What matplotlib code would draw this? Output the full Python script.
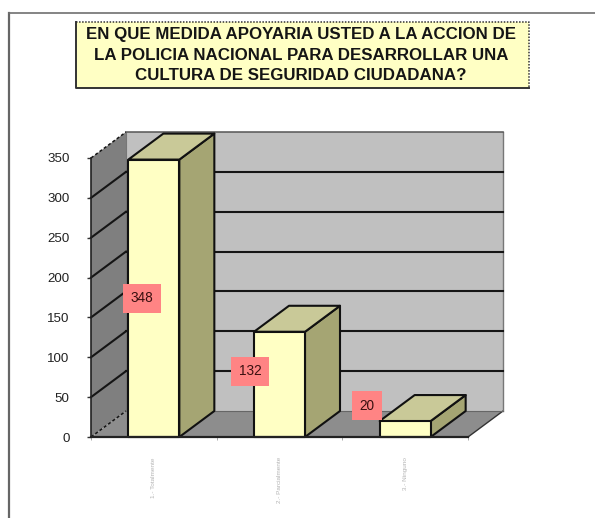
import matplotlib
matplotlib.use("Agg")
import matplotlib.pyplot as plt
from matplotlib.patches import Polygon, Rectangle
from matplotlib.lines import Line2D

categories = ["1.- Totalmente", "2.- Parcialmente", "3.- Ninguno"]
values = [348, 132, 20]
y_ticks = [0, 50, 100, 150, 200, 250, 300, 350]
title_lines = ["EN QUE MEDIDA APOYARIA USTED A LA ACCION DE",
               "LA POLICIA NACIONAL PARA DESARROLLAR UNA",
               "CULTURA DE SEGURIDAD CIUDADANA?"]

W, H = 595, 518
FONT = "Liberation Sans"
fig = plt.figure(figsize=(W / 100, H / 100), dpi=100, facecolor="white")

def fx(px): return px / W
def fy(py): return 1 - py / H

# page frame
fig.add_artist(Line2D([fx(8.5), fx(8.5)], [0, fy(12.5)], color="#666666", lw=1.6))
fig.add_artist(Line2D([fx(8.5), 1], [fy(12.5), fy(12.5)], color="#707070", lw=1.2))

# title box
fig.add_artist(Rectangle((fx(75.5), fy(88)), fx(453), 66 / H, transform=fig.transFigure,
                         fc="#ffffc4", ec="none"))
fig.add_artist(Line2D([fx(75.5), fx(75.5), fx(529)], [fy(22), fy(88), fy(88)], color="#333333", lw=1.4))
fig.add_artist(Line2D([fx(75.5), fx(529), fx(529)], [fy(22), fy(22), fy(88)], color="#333333", lw=1.1,
                      ls=(0, (1, 1))))
for line, py in zip(title_lines, [35, 55, 75]):
    fig.text(fx(301), fy(py), line, ha="center", va="center", family=FONT,
             weight="bold", fontsize=12.2, color="#151515")

ax = fig.add_axes([fx(91), fy(437), 377 / W, 279 / H])
ax.set_xlim(0, 3)
ax.set_ylim(0, 350)
ax.patch.set_visible(False)
for s in ("top", "right"):
    ax.spines[s].set_visible(False)
ax.spines["left"].set_color("#222222")
ax.spines["bottom"].set_color("#222222")
ax.spines["left"].set_linewidth(1.2)
ax.spines["bottom"].set_linewidth(1.6)
ax.spines["left"].set_zorder(6)
ax.spines["bottom"].set_zorder(6)

dx = 35 / (377 / 3)
dy = 26 / (279 / 350)
ymax = y_ticks[-1]
xmax = 3

def poly(pts, fc, ec="#111111", lw=1.5, z=3):
    ax.add_patch(Polygon(pts, closed=True, fc=fc, ec=ec, lw=lw, zorder=z,
                         clip_on=False, joinstyle="round"))

# walls and floor
poly([(dx, dy), (xmax + dx, dy), (xmax + dx, ymax + dy), (dx, ymax + dy)], "#c0c0c0", ec="none", z=1)
poly([(0, 0), (dx, dy), (dx, ymax + dy), (0, ymax)], "#7f7f7f", ec="none", z=1)
poly([(0, 0), (xmax, 0), (xmax + dx, dy), (dx, dy)], "#8d8d8d", ec="none", z=1)
ax.plot([xmax, xmax + dx], [0, dy], color="#333333", lw=1, zorder=2, clip_on=False)
ax.plot([xmax + dx, xmax + dx], [dy, ymax + dy], color="#777777", lw=1, zorder=2, clip_on=False)
ax.plot([dx, xmax + dx], [ymax + dy] * 2, color="#555555", lw=1.1, zorder=2, clip_on=False)
ax.plot([dx, dx], [dy, ymax + dy], color="#777777", lw=0.8, zorder=2, clip_on=False)

# gridlines
for t in y_ticks:
    solid = 0 < t
    ax.plot([0, dx], [t, t + dy], color="#151515", lw=1.5 if solid and t < ymax else 1.1,
            ls="-" if solid and t < ymax else (0, (2, 1.5)), zorder=2, clip_on=False)
    if 0 < t < ymax:
        ax.plot([dx, xmax + dx], [t + dy, t + dy], color="#151515", lw=1.5, zorder=2, clip_on=False)
ax.plot([dx, xmax + dx], [dy, dy], color="#666666", lw=0.8, zorder=2, clip_on=False)

# bars
bw = 51 / (377 / 3)
for i, v in enumerate(values):
    c = i + 0.5
    l, r = c - bw / 2, c + bw / 2
    poly([(r, 0), (r + dx, dy), (r + dx, v + dy), (r, v)], "#a5a573", z=3 + i)
    poly([(l, v), (r, v), (r + dx, v + dy), (l + dx, v + dy)], "#c9c998", z=3 + i)
    poly([(l, 0), (r, 0), (r, v), (l, v)], "#ffffc4", z=3 + i)

# value labels
label_offsets_px = [(-12, 0), (-29.5, 13), (-38, 23.5)]
for i, v in enumerate(values):
    off = label_offsets_px[i]
    ax.annotate(str(v), xy=(i + 0.5, v / 2), xytext=(off[0] * 0.72, off[1] * 0.72),
                textcoords="offset points", ha="center", va="center", family=FONT,
                fontsize=9.8, color="#3a1010", zorder=10,
                bbox=dict(boxstyle="square,pad=0.55", fc="#ff8484", ec="none"))

ax.set_yticks(y_ticks)
ax.set_xticks([0, 1, 2, 3])
ax.set_xticklabels([])
ax.tick_params(axis="y", length=3, width=1, color="#333333", pad=12.5, labelsize=9.6, labelcolor="#222222")
ax.tick_params(axis="x", length=2, width=0.7, color="#aaaaaa")
for lab in ax.get_yticklabels():
    lab.set_family(FONT)

# faint category labels
for i, name in enumerate(categories):
    ax.annotate(name, xy=(i + 0.5, 0), xytext=(0, -14.5), textcoords="offset points",
                rotation=90, ha="center", va="top", family=FONT, fontsize=4.6,
                color="#b4b4b4", annotation_clip=False)

fig.savefig("out.png", dpi=100, facecolor="white")
